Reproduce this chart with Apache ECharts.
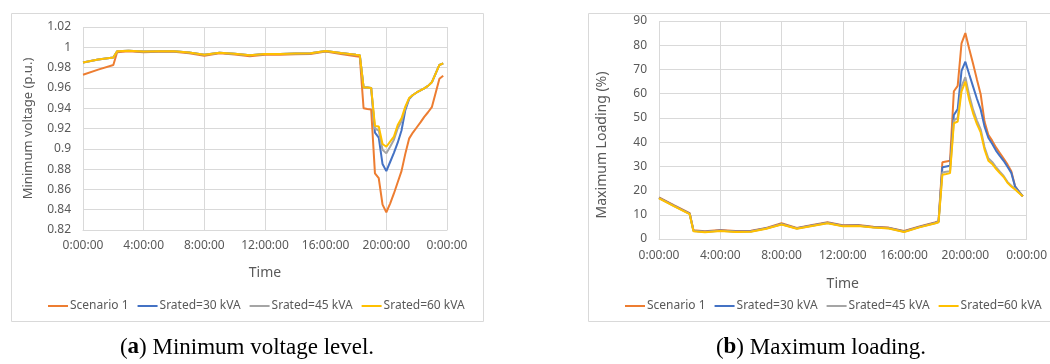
<!DOCTYPE html>
<html>
<head>
<meta charset="utf-8">
<script src="https://cdn.jsdelivr.net/npm/echarts@6/dist/echarts.min.js"></script>
<style>
  html, body { margin: 0; padding: 0; background: #fff; }
  #chart { width: 1050px; height: 364px; }
</style>
</head>
<body>
<div id="chart"></div>
<script>
// time of day in hours (15 min steps in the evening)
const hours = [0, 1, 2, 2.25, 3, 4, 5, 6, 7, 8, 9, 10, 11, 12, 13, 14, 15, 16, 17, 18,
  18.25, 18.5, 18.75, 19, 19.25, 19.5, 19.75, 20, 20.25, 20.5, 20.75, 21, 21.25, 21.5, 21.75,
  22, 22.25, 22.5, 22.75, 23, 23.25, 23.5, 23.75];

const seriesNames = ['Scenario 1', 'Srated=30 kVA', 'Srated=45 kVA', 'Srated=60 kVA'];
const seriesColors = ['#ED7D31', '#4472C4', '#A5A5A5', '#FFC000'];

// (a) minimum voltage, p.u.
const voltScenario1 = [0.973, 0.978, 0.9825, 0.9952, 0.9962, 0.9952, 0.9957, 0.9956, 0.9942, 0.9916,
  0.9941, 0.9930, 0.9912, 0.9927, 0.9926, 0.9931, 0.9935, 0.9958, 0.9935, 0.9912,
  0.9907, 0.940, 0.9393, 0.9387, 0.8758, 0.871, 0.845, 0.8375, 0.846, 0.856, 0.867, 0.878,
  0.895, 0.910, 0.916, 0.921, 0.926, 0.9315, 0.936, 0.941, 0.955, 0.969, 0.972];
const voltS30 = [0.985, 0.988, 0.990, 0.996, 0.9966, 0.9958, 0.9962, 0.9961, 0.9948, 0.9926,
  0.9947, 0.9937, 0.9922, 0.9934, 0.9933, 0.9938, 0.9942, 0.9963, 0.9943, 0.9926,
  0.9922, 0.9605, 0.9603, 0.960, 0.916, 0.911, 0.885, 0.878, 0.887, 0.896, 0.906, 0.918,
  0.938, 0.949, 0.953, 0.9555, 0.9575, 0.9596, 0.962, 0.9655, 0.974, 0.9826, 0.9842];
const voltS45 = [0.985, 0.988, 0.990, 0.996, 0.9966, 0.9958, 0.9962, 0.9961, 0.9948, 0.9926,
  0.9947, 0.9937, 0.9922, 0.9934, 0.9933, 0.9938, 0.9942, 0.9963, 0.9943, 0.9926,
  0.9922, 0.9605, 0.9603, 0.960, 0.920, 0.918, 0.899, 0.8955, 0.902, 0.909, 0.920, 0.927,
  0.940, 0.9495, 0.953, 0.9555, 0.9575, 0.9596, 0.962, 0.9655, 0.974, 0.9826, 0.9842];
const voltS60 = [0.985, 0.988, 0.990, 0.996, 0.9966, 0.9958, 0.9962, 0.9961, 0.9948, 0.9926,
  0.9947, 0.9937, 0.9922, 0.9934, 0.9933, 0.9938, 0.9942, 0.9963, 0.9943, 0.9926,
  0.9922, 0.9605, 0.9603, 0.960, 0.9225, 0.922, 0.9047, 0.902, 0.907, 0.912, 0.9235, 0.930,
  0.9415, 0.950, 0.953, 0.9555, 0.9575, 0.9596, 0.962, 0.9655, 0.974, 0.9826, 0.9842];

// (b) maximum loading, %
const loadScenario1 = [17.2, 13.9, 10.7, 3.6, 3.2, 3.7, 3.3, 3.4, 4.6, 6.5, 4.6, 5.8, 6.9, 5.7, 5.8,
  5.1, 4.7, 3.3, 5.2, 6.8, 7.3, 31.7, 32.0, 32.3, 61.0, 63.2, 80.8, 85.0, 78.5, 72.5, 66.0,
  59.8, 48.5, 43.0, 40.6, 37.8, 35.5, 33.2, 30.8, 28.0, 21.7, 19.6, 17.6];
const loadS30 = [17.0, 13.7, 10.5, 3.4, 3.0, 3.5, 3.1, 3.2, 4.4, 6.2, 4.4, 5.6, 6.7, 5.5, 5.6,
  4.9, 4.5, 3.1, 5.0, 6.6, 7.1, 29.6, 29.9, 30.2, 51.2, 53.6, 69.4, 73.2, 68.0, 63.0, 58.0,
  53.5, 46.5, 41.8, 39.3, 36.5, 34.3, 32.3, 29.8, 27.3, 21.6, 19.6, 17.6];
const loadS45 = [16.9, 13.6, 10.4, 3.3, 2.9, 3.4, 3.0, 3.1, 4.3, 6.1, 4.3, 5.5, 6.6, 5.4, 5.5,
  4.8, 4.4, 3.0, 4.9, 6.5, 7.0, 27.5, 27.8, 28.0, 49.0, 50.0, 63.0, 66.8, 59.5, 53.5, 49.0,
  45.3, 38.0, 33.3, 31.8, 29.7, 27.8, 26.0, 23.6, 22.0, 20.7, 19.2, 17.6];
const loadS60 = [16.8, 13.5, 10.3, 3.2, 2.8, 3.3, 2.9, 3.0, 4.2, 6.0, 4.2, 5.4, 6.5, 5.3, 5.4,
  4.7, 4.3, 2.9, 4.8, 6.4, 6.9, 26.5, 26.8, 27.2, 47.8, 48.5, 60.9, 65.0, 57.5, 52.0, 47.5,
  44.0, 37.0, 32.3, 31.0, 29.0, 27.2, 25.6, 23.2, 21.7, 20.4, 19.0, 17.6];

const xTicks = ['0:00:00', '4:00:00', '8:00:00', '12:00:00', '16:00:00', '20:00:00', '0:00:00'];

const TXT = '#595959';
const GRID_LINE = '#d9d9d9';
const FONT = 'Noto Sans';

const pairs = (vals) => hours.map((h, i) => [h, vals[i]]);

const makeXAxis = (gridIndex, labelMargin, nameGap) => ({
  type: 'value',
  gridIndex,
  min: 0,
  max: 24,
  interval: 4,
  name: 'Time',
  nameLocation: 'middle',
  nameGap,
  nameTextStyle: { color: TXT, fontSize: 14, fontFamily: FONT },
  axisLine: { show: true, lineStyle: { color: GRID_LINE } },
  axisTick: { show: false },
  axisLabel: {
    color: TXT, fontSize: 12, fontFamily: FONT, margin: labelMargin,
    formatter: (v) => xTicks[Math.round(v / 4)] || ''
  },
  splitLine: { show: true, lineStyle: { color: GRID_LINE } }
});

const makeSeries = (lists, axisIdx) => lists.map((vals, i) => ({
  name: seriesNames[i],
  type: 'line',
  xAxisIndex: axisIdx,
  yAxisIndex: axisIdx,
  data: pairs(vals),
  symbol: 'none',
  smooth: false,
  animation: false,
  lineStyle: { width: 2, color: seriesColors[i] },
  itemStyle: { color: seriesColors[i] }
}));

const legendBase = {
  data: seriesNames,
  icon: 'rect',
  itemWidth: 20,
  itemHeight: 2,
  itemGap: 9,
  textStyle: { color: TXT, fontSize: 12, fontFamily: FONT, padding: [0, 0, 0, -3] }
};

const option = {
  animation: false,
  color: seriesColors,
  graphic: [
    { type: 'rect', shape: { x: 11.5, y: 13.5, width: 472, height: 308 },
      style: { fill: 'none', stroke: GRID_LINE, lineWidth: 1 } },
    { type: 'rect', shape: { x: 588.5, y: 13.5, width: 470, height: 308 },
      style: { fill: 'none', stroke: GRID_LINE, lineWidth: 1 } },
    { type: 'text', x: 247, y: 336,
      style: { text: '({b|a}) Minimum voltage level.', textAlign: 'center',
        font: '23px "Liberation Serif"', fill: '#000',
        rich: { b: { fontWeight: 'bold', fontSize: 23, fontFamily: 'Liberation Serif' } } } },
    { type: 'text', x: 821, y: 336,
      style: { text: '({b|b}) Maximum loading.', textAlign: 'center',
        font: '23px "Liberation Serif"', fill: '#000',
        rich: { b: { fontWeight: 'bold', fontSize: 23, fontFamily: 'Liberation Serif' } } } }
  ],
  legend: [
    Object.assign({ left: 43, top: 295 }, legendBase),
    Object.assign({ left: 620, top: 295 }, legendBase)
  ],
  grid: [
    { left: 83, top: 27, width: 364, height: 203 },
    { left: 659, top: 21, width: 370, height: 218 }
  ],
  xAxis: [makeXAxis(0, 10, 36), makeXAxis(1, 11, 38)],
  yAxis: [
    {
      type: 'value', gridIndex: 0, min: 0.82, max: 1.02, interval: 0.02,
      name: 'Minimum voltage (p.u.)', nameLocation: 'middle', nameGap: 48, nameRotate: 90,
      nameTextStyle: { color: TXT, fontSize: 13, fontFamily: FONT },
      axisLine: { show: false }, axisTick: { show: false },
      axisLabel: { color: TXT, fontSize: 12, fontFamily: FONT, margin: 12,
        formatter: (v) => String(parseFloat(v.toFixed(2))) },
      splitLine: { lineStyle: { color: GRID_LINE } }
    },
    {
      type: 'value', gridIndex: 1, min: 0, max: 90, interval: 10,
      name: 'Maximum Loading (%)', nameLocation: 'middle', nameGap: 50, nameRotate: 90,
      nameTextStyle: { color: TXT, fontSize: 14, fontFamily: FONT, padding: [0, 30, 0, 0] },
      axisLine: { show: false }, axisTick: { show: false },
      axisLabel: { color: TXT, fontSize: 12, fontFamily: FONT, margin: 12 },
      splitLine: { lineStyle: { color: GRID_LINE } }
    }
  ],
  series: [
    ...makeSeries([voltScenario1, voltS30, voltS45, voltS60], 0),
    ...makeSeries([loadScenario1, loadS30, loadS45, loadS60], 1)
  ]
};

const myChart = echarts.init(document.getElementById('chart'));
myChart.setOption(option);
</script>
</body>
</html>
